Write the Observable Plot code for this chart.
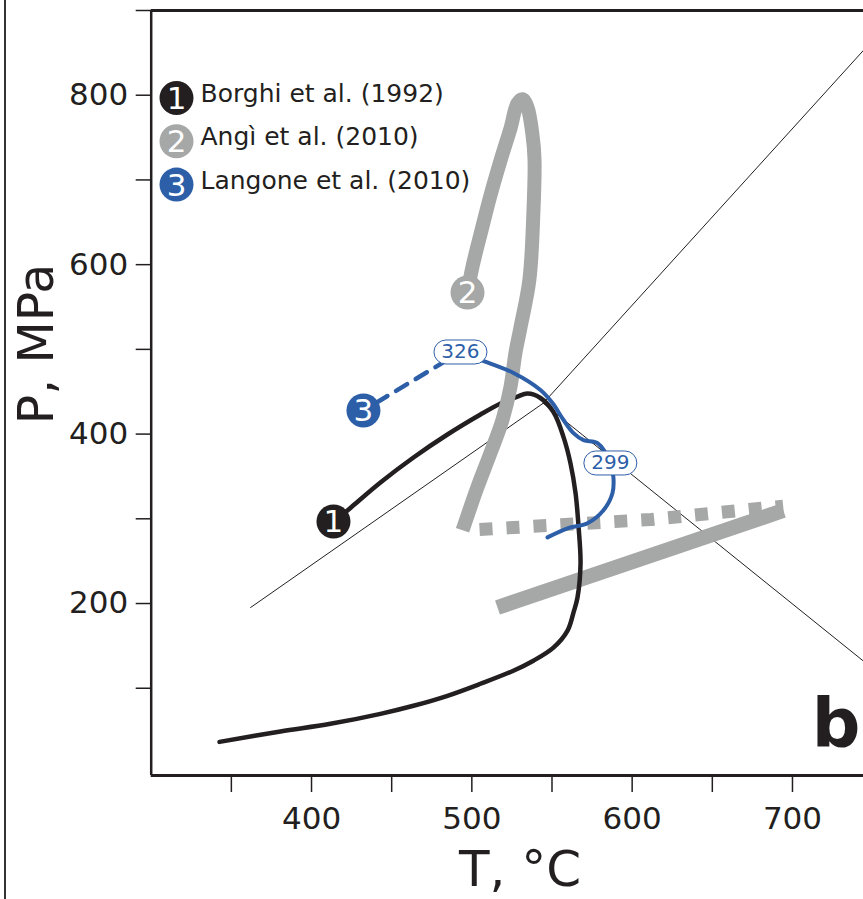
<!DOCTYPE html>
<html><head><meta charset="utf-8">
<script src="https://cdn.jsdelivr.net/npm/d3@7"></script>
<script src="https://cdn.jsdelivr.net/npm/@observablehq/plot@0.6"></script>
<style>
body{margin:0;background:#fff;}
#wrap{position:relative;width:863px;height:899px;overflow:hidden;background:#fff;}
#edge{position:absolute;left:4px;top:0;width:2px;height:899px;background:#333;}
#wrap svg{position:absolute;left:0;top:0;}
</style></head><body><div id="wrap"><div id="edge"></div></div>
<script>
// ---- Data (T in °C, P in MPa) ----
const sourceNames = ["Borghi et al. (1992)", "Angì et al. (2010)", "Langone et al. (2010)"];
const sourceIds = ["1", "2", "3"];
const sourceColors = ["#231f20", "#a6a8a7", "#2d5fa8"];

// Path 1: Borghi et al. (1992)
const borghiT = [413.1,424.6,443.0,463.6,484.8,505.4,517.9,528.5,534.7,542.8,550.9,557.2,561.5,564.7,566.6,567.8,565.9,563.4,559.7,550.9,538.4,525.9,505.4,484.8,463.6,443.0,411.8,380.6,342.6];
const borghiP = [294.7,313.4,342.9,372.4,399.5,423.1,436.1,444.3,447.8,442.6,426.0,396.4,365.7,330.2,289.9,247.3,207.1,189.3,168.0,147.9,132.5,120.7,105.3,91.1,79.3,69.8,58.0,48.9,36.7];

// Path 2: Angì et al. (2010)
const angiT = [497.3,500.4,506.0,511.6,517.9,524.1,528.5,531.6,534.7,537.8,539.1,538.4,535.9,530.3,527.2,524.1,519.1,511.6,503.5,494.2];
const angiP = [568.0,597.6,640.3,681.6,723.0,760.7,790.5,795.3,785.8,753.8,724.3,661.5,582.2,525.4,495.9,455.6,416.6,377.5,337.3,286.4];
// Angì: dotted and solid straight segments
const angiDotT = [504.8, 611.8, 694.2];
const angiDotP = [287.4, 299.2, 315.0];
const angiBarT = [516.0, 694.3];
const angiBarP = [195.3, 309.8];

// Path 3: Langone et al. (2010)
const langoneDashT = [432.4, 492.9];
const langoneDashP = [427.9, 496.9];
const langoneT = [492.9,505.4,526.0,542.8,550.3,557.2,563.4,569.7,578.4,586.4,588.3,587.7,582.1,572.1,559.7,547.2];
const langoneP = [496.9,487.6,472.2,452.1,436.7,416.6,401.2,392.9,389.3,365.9,349.1,330.2,310.1,294.7,288.8,278.1];
const stageLabels = ["326", "299"];
const stageT = [492.9, 586.4];
const stageP = [496.9, 365.9];

// Path start markers
const markerT = [413.7, 497.3, 432.4];
const markerP = [296.8, 567.1, 427.9];

// Al2SiO5 reaction lines (Ky-And, Ky-Sil, And-Sil) meeting at the triple point
const tripleT = 544.5, tripleP = 436.4;
const kyAndT = [362.0, tripleT], kyAndP = [195.3, tripleP];
const kySilT = [tripleT, 744.3], kySilP = [tripleP, 853.0];
const andSilT = [tripleT, 744.3], andSilP = [tripleP, 132.0];

// Axes
const xTicks = [350, 400, 450, 500, 550, 600, 650, 700];
const xLabelTicks = [400, 500, 600, 700];
const yTicks = [100, 200, 300, 400, 500, 600, 700, 800, 900];
const yLabelTicks = [200, 400, 600, 800];
const xDomain = [300, 744.3];
const yDomain = [-3, 900];
const panelLetter = "b";

// ---- Build ----
const pts = (T, P) => T.map((t, i) => ({T: t, P: P[i]}));
const ink = "#231f20";

const legendTop = 87.5, legendGap = 43.3, legendTextShift = -3.9;
const legendMarks = sourceNames.flatMap((name, i) => [
  Plot.dot([name], {frameAnchor: "top-left", dx: 25.3, dy: legendTop + i * legendGap, r: 17, fill: sourceColors[i]}),
  Plot.text([sourceIds[i]], {frameAnchor: "top-left", dx: 25.3, dy: legendTop + i * legendGap + 1, text: d => d, fill: "white", fontSize: 31, textAnchor: "middle", lineAnchor: "middle"}),
  Plot.text([name], {frameAnchor: "top-left", dx: 49.3, dy: legendTop + i * legendGap + legendTextShift, text: d => d, fill: ink, fontSize: 25, textAnchor: "start", lineAnchor: "middle"})
]);

const pillW = 53, pillH = 24;
const pill = {
  draw(ctx) {
    const r = pillH / 2, a = pillW / 2 - r;
    ctx.moveTo(-a, -r);
    ctx.lineTo(a, -r);
    ctx.arc(a, 0, r, -Math.PI / 2, Math.PI / 2);
    ctx.lineTo(-a, r);
    ctx.arc(-a, 0, r, Math.PI / 2, 3 * Math.PI / 2);
    ctx.closePath();
  }
};

const markers = pts(markerT, markerP).map((d, i) => ({...d, id: sourceIds[i], color: sourceColors[i]}));
const stages = pts(stageT, stageP).map((d, i) => ({...d, label: stageLabels[i]}));

const plot = Plot.plot({
  width: 863,
  height: 899,
  marginLeft: 150.7,
  marginRight: 0,
  marginTop: 10,
  marginBottom: 124,
  style: {fontFamily: "'DejaVu Sans', Verdana, sans-serif", color: ink, background: "transparent", overflow: "visible"},
  x: {domain: xDomain},
  y: {domain: yDomain},
  marks: [
    // reaction lines
    Plot.line(pts(kyAndT, kyAndP), {x: "T", y: "P", stroke: ink, strokeWidth: 1}),
    Plot.line(pts(kySilT, kySilP), {x: "T", y: "P", stroke: ink, strokeWidth: 1}),
    Plot.line(pts(andSilT, andSilP), {x: "T", y: "P", stroke: ink, strokeWidth: 1}),
    // Angì straight segments
    Plot.line(pts(angiBarT, angiBarP), {x: "T", y: "P", stroke: sourceColors[1], strokeWidth: 15, strokeLinecap: "butt"}),
    Plot.line(pts(angiDotT, angiDotP), {x: "T", y: "P", stroke: sourceColors[1], strokeWidth: 13, strokeLinecap: "butt", strokeDasharray: "13 14"}),
    // Borghi
    Plot.line(pts(borghiT, borghiP), {x: "T", y: "P", stroke: sourceColors[0], strokeWidth: 4.5, curve: "catmull-rom"}),
    // Angì curve
    Plot.line(pts(angiT, angiP), {x: "T", y: "P", stroke: sourceColors[1], strokeWidth: 14, strokeLinecap: "butt", curve: "catmull-rom"}),
    // Langone
    Plot.line(pts(langoneDashT, langoneDashP), {x: "T", y: "P", stroke: sourceColors[2], strokeWidth: 4.5, strokeDasharray: "13 10", strokeDashoffset: 8}),
    Plot.line(pts(langoneT, langoneP), {x: "T", y: "P", stroke: sourceColors[2], strokeWidth: 4, curve: "catmull-rom"}),
    // markers
    Plot.dot(markers, {x: "T", y: "P", r: 17, fill: "color"}),
    Plot.text(markers, {x: "T", y: "P", text: "id", fill: "white", fontSize: 31, dy: 1}),
    // stage labels
    Plot.dot(stages, {x: "T", y: "P", symbol: pill, r: 10, fill: "white", stroke: sourceColors[2], strokeWidth: 1}),
    Plot.text(stages, {x: "T", y: "P", text: "label", fill: sourceColors[2], fontSize: 20}),
    // legend
    ...legendMarks,
    // panel letter
    Plot.text([panelLetter], {frameAnchor: "bottom-right", dx: -3, dy: -50, text: d => d, fontSize: 68, fontWeight: "bold", textAnchor: "end", lineAnchor: "middle", fill: ink}),
    // axes
    Plot.axisY({ticks: yTicks, tickSize: 15, tickPadding: 8, fontSize: 31, strokeWidth: 1.5, tickFormat: d => yLabelTicks.includes(d) ? String(d) : "", label: null}),
    Plot.axisX({ticks: xTicks, tickSize: 17, tickPadding: 14, fontSize: 31, strokeWidth: 1.5, tickFormat: d => xLabelTicks.includes(d) ? String(d) : "", label: null}),
    // frame (left, top, bottom; right side is cut off)
    Plot.ruleX([xDomain[0]], {stroke: ink, strokeWidth: 2.5}),
    Plot.ruleY(yDomain, {stroke: ink, strokeWidth: 3})
  ]
});

const svg = d3.select(plot);
svg.append("text")
  .attr("x", 520).attr("y", 886)
  .attr("text-anchor", "middle")
  .attr("font-size", 50)
  .attr("fill", ink)
  .text("T, °C");
svg.append("text")
  .attr("transform", "translate(53,344) rotate(-90)")
  .attr("text-anchor", "middle")
  .attr("font-size", 49)
  .attr("fill", ink)
  .text("P, MPa");

document.getElementById("wrap").appendChild(plot);
</script>
</body></html>
